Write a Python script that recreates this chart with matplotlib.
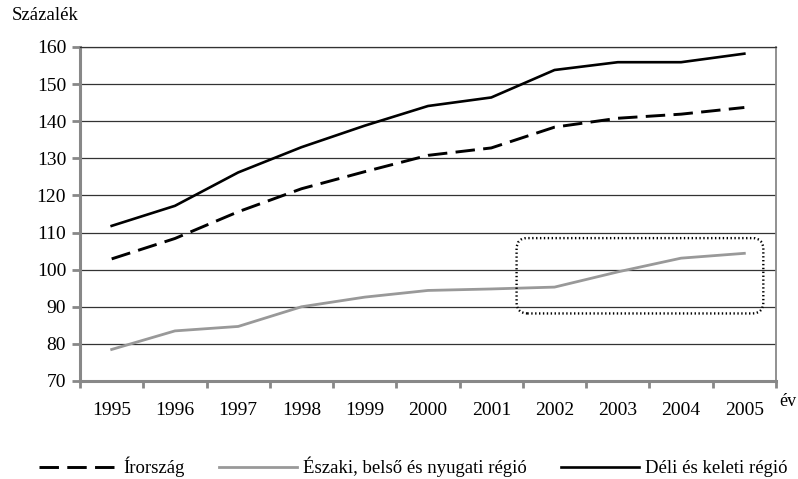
import matplotlib.pyplot as plt
from matplotlib.patches import FancyBboxPatch

plt.rcParams['font.family'] = ['Liberation Serif', 'DejaVu Serif']
plt.rcParams['font.size'] = 13.5
plt.rcParams['lines.scale_dashes'] = False

years = ['1995', '1996', '1997', '1998', '1999', '2000',
         '2001', '2002', '2003', '2004', '2005']
irorszag = [102.9, 108.4, 115.6, 121.8, 126.4, 130.8, 132.8, 138.4, 140.8, 141.9, 143.7]
eszaki = [78.5, 83.5, 84.7, 90.0, 92.6, 94.4, 94.8, 95.3, 99.4, 103.1, 104.4]
deli = [111.8, 117.2, 126.2, 133.0, 138.8, 144.1, 146.4, 153.8, 155.9, 155.9, 158.2]

# highlighted area (category index / percent)
box_x0, box_x1 = 6.4, 10.3
box_y0, box_y1 = 88.2, 108.5

fg = plt.figure(figsize=(7.98, 4.79), dpi=100)
ax = fg.add_axes([0.1003, 0.2046, 0.8721, 0.6973])

x = list(range(len(years)))
ax.plot(x, irorszag, color='black', lw=2.1, dashes=(14, 6), label='Írország')
ax.plot(x, eszaki, color='#999999', lw=2.0, label='Északi, belső és nyugati régió')
ax.plot(x, deli, color='black', lw=1.9, label='Déli és keleti régió')

ax.set_xlim(-0.5, len(years) - 0.5)
ax.set_ylim(70, 160)
ax.set_yticks(range(70, 161, 10))
ax.yaxis.grid(True, color='#333333', lw=0.9)
ax.set_axisbelow(True)

ax.set_xticks([i - 0.5 for i in range(len(years) + 1)])
ax.set_xticklabels([])
ax.set_xticks(x, minor=True)
ax.set_xticklabels(years, minor=True)
ax.tick_params(axis='x', which='major', length=5, width=2, color='#888888', direction='out')
ax.tick_params(axis='x', which='minor', length=0, pad=15, labelsize=14)
ax.tick_params(axis='y', length=6, width=2, color='#888888', pad=4, labelsize=14)

for s in ['left', 'bottom']:
    ax.spines[s].set_color('#888888')
    ax.spines[s].set_linewidth(2.2)
ax.spines['right'].set_color('#888888')
ax.spines['right'].set_linewidth(1.3)
ax.spines['top'].set_color('#333333')
ax.spines['top'].set_linewidth(0.9)

# rounded dotted box, rounding corrected for axis aspect
bb = ax.get_position()
wpx = bb.width * 798
hpx = bb.height * 479
aspect = (90 / hpx) / (len(years) / wpx)
box = FancyBboxPatch((box_x0, box_y0), box_x1 - box_x0, box_y1 - box_y0,
                     boxstyle='round,pad=0,rounding_size=0.17',
                     mutation_aspect=aspect, fill=False, ec='black',
                     lw=1.7, linestyle=(0, (1, 1.8)), zorder=4)
ax.add_patch(box)

fg.text(12 / 798, 1 - 16 / 479, 'Százalék', ha='left', va='center')
fg.text(779 / 798, 1 - 401 / 479, 'év', ha='left', va='center', fontsize=13)

fg.legend(loc='center', bbox_to_anchor=(0.518, 0.025), ncol=3, frameon=False,
          handlelength=4.2, handletextpad=0.3, columnspacing=1.8,
          borderaxespad=0)

fg.savefig('out.png', dpi=100)
